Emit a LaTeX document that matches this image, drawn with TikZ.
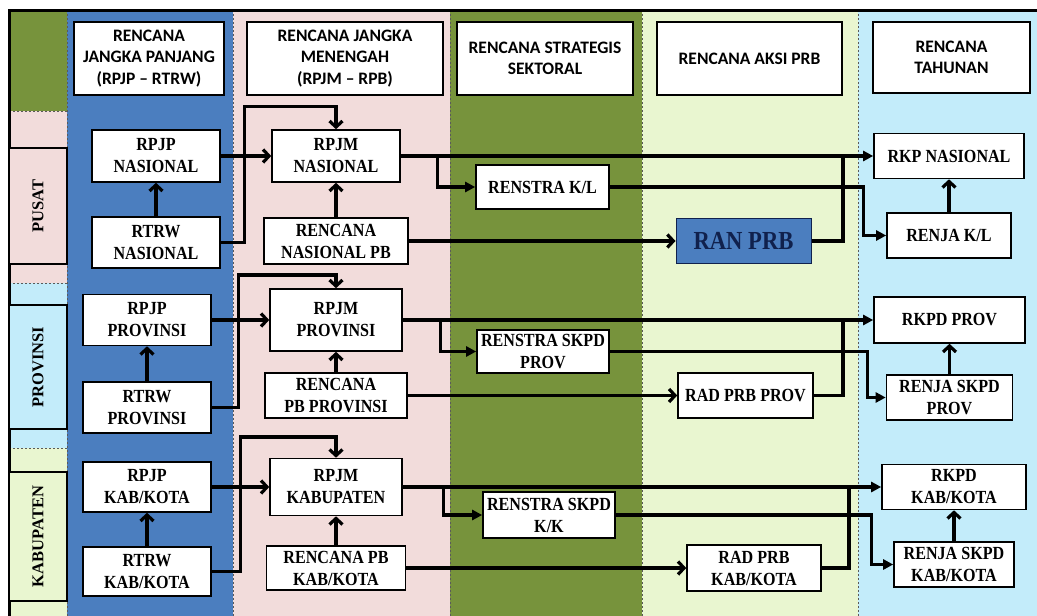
\documentclass[tikz,border=0pt]{standalone}
\usepackage{fontspec}
\setmainfont{Liberation Serif}
\newfontfamily\headfont{Carlito}
\newfontfamily\boxfont[FakeStretch=0.87]{Liberation Serif}
\usetikzlibrary{arrows.meta}

\definecolor{olive}{HTML}{77933C}
\definecolor{colblue}{HTML}{4B7EBF}
\definecolor{rosy}{HTML}{F2DCDB}
\definecolor{mint}{HTML}{E9F6D0}
\definecolor{sky}{HTML}{C3ECFA}
\definecolor{navy}{HTML}{10214D}
\definecolor{sepgray}{HTML}{5A5A5A}

\tikzset{
  plan/.style={draw=black, line width=1.6pt, fill=white, align=center, inner sep=1pt,
    font=\boxfont\bfseries\fontsize{18.5}{22}\selectfont},
  head/.style={draw=black, line width=2.6pt, fill=white, align=center, inner sep=1pt,
    font=\headfont\bfseries\fontsize{17.5}{21.5}\selectfont},
  level/.style={draw=black, line width=2.6pt, rotate=90, inner sep=0pt,
    font=\bfseries\fontsize{16.5}{20}\selectfont},
  ranbox/.style={draw=navy, line width=1pt, fill=colblue, text=navy, inner sep=1pt,
    font=\boxfont\bfseries\fontsize{26}{28}\selectfont},
  link/.style={line width=3.2pt},
  chev/.style={-{Straight Barb[length=6pt,width=13pt]}},
  tri/.style={-{Triangle[length=10pt,width=10pt]}},
  sep/.style={draw=sepgray, line width=0.7pt, dash pattern=on 2pt off 2pt},
}

\begin{document}
\begin{tikzpicture}[x=1pt, y=-1pt]
\useasboundingbox (0,0) rectangle (1037,616);
\clip (0,0) rectangle (1037,616);

% column backgrounds
\fill[olive]   (9,10)   rectangle (67,111);
\fill[rosy]    (9,111)  rectangle (67,283);
\fill[sky]     (9,283)  rectangle (67,448);
\fill[mint]    (9,448)  rectangle (67,620);
\fill[colblue] (67,10)  rectangle (233,620);
\fill[rosy]    (233,10) rectangle (450,620);
\fill[olive]   (450,10) rectangle (642,620);
\fill[mint]    (642,10) rectangle (858,620);
\fill[sky]     (858,10) rectangle (1040,620);

% dashed separators
\foreach \sx in {67,233,450,642,858} \draw[sep] (\sx,10) -- (\sx,620);
\foreach \sy in {111,283,448} \draw[sep] (9,\sy) -- (67,\sy);

% outer frame (left and top)
\draw[line width=3pt] (9,620) -- (9,10) -- (1040,10);

% column headings
\node[head, minimum width=150, minimum height=73] (h1) at (149,58.5) {RENCANA\\JANGKA PANJANG\\(RPJP – RTRW)};
\node[head, minimum width=196, minimum height=73] (h2) at (345,58.5) {RENCANA JANGKA\\MENENGAH\\(RPJM – RPB)};
\node[head, minimum width=176, minimum height=73] (h3) at (545,58.5) {RENCANA STRATEGIS\\SEKTORAL};
\node[head, minimum width=185, minimum height=73] (h4) at (749.5,58.5) {RENCANA AKSI PRB};
\node[head, minimum width=157, minimum height=71] (h5) at (951.5,57.5) {RENCANA\\TAHUNAN};

% level labels
\node[level, fill=rosy, minimum width=116, minimum height=58] (pusat) at (38,206) {PUSAT};
\node[level, fill=sky,  minimum width=124, minimum height=58] (prov)  at (38,367) {PROVINSI};
\node[level, fill=mint, minimum width=129, minimum height=58] (kab)   at (38,536.5) {KABUPATEN};

% ---------------- PUSAT ----------------
\node[plan, minimum width=128, minimum height=52] (rpjpN) at (156,156) {RPJP\\NASIONAL};
\node[plan, minimum width=128, minimum height=51] (rtrwN) at (156,242.5) {RTRW\\NASIONAL};
\node[plan, minimum width=128, minimum height=52] (rpjmN) at (336,156) {RPJM\\NASIONAL};
\node[plan, minimum width=144, minimum height=46] (rpbN) at (336,241) {RENCANA\\NASIONAL PB};
\node[plan, minimum width=133, minimum height=44] (renstraN) at (542.5,187) {RENSTRA K/L};
\node[ranbox, minimum width=135, minimum height=45] (ranprb) at (743.5,241) {RAN PRB};
\node[plan, minimum width=150, minimum height=45] (rkpN) at (949,156) {RKP NASIONAL};
\node[plan, minimum width=124, minimum height=45] (renjaN) at (949,235.5) {RENJA K/L};
\coordinate (jN) at (843,156);

\draw[link,chev] (rtrwN) -- (rpjpN);
\draw[link,chev] (rpjpN) -- (rpjmN);
\draw[link,chev] (rtrwN.east) -| ++(24,-136) -| (rpjmN.north);
\draw[link,chev] (rpbN) -- (rpjmN);
\draw[link,tri] (rpjmN) -- (rkpN);
\draw[link,tri] (rpjmN.east) ++(37,0) |- (renstraN.west);
\draw[link,tri] (renstraN.east) -- ++(254,0) |- (renjaN.west);
\draw[link,chev] (rpbN) -- (ranprb);
\draw[link] (ranprb.east) -| (jN);
\draw[link,chev] (renjaN) -- (rkpN);

% ---------------- PROVINSI ----------------
\node[plan, minimum width=128, minimum height=51] (rpjpP) at (147,320) {RPJP\\PROVINSI};
\node[plan, minimum width=128, minimum height=51] (rtrwP) at (147,407.5) {RTRW\\PROVINSI};
\node[plan, minimum width=132, minimum height=62] (rpjmP) at (336,320) {RPJM\\PROVINSI};
\node[plan, minimum width=142, minimum height=45] (rpbP) at (336,395.5) {RENCANA\\PB PROVINSI};
\node[plan, minimum width=132, minimum height=43] (renstraP) at (543,351.5) {RENSTRA SKPD\\PROV};
\node[plan, minimum width=135, minimum height=45] (radP) at (745.5,395.5) {RAD PRB PROV};
\node[plan, minimum width=151, minimum height=46] (rkpdP) at (949.5,320) {RKPD PROV};
\node[plan, minimum width=126, minimum height=45] (renjaP) at (949.5,397.5) {RENJA SKPD\\PROV};
\coordinate (jP) at (843,320);

\draw[link,chev] (rtrwP) -- (rpjpP);
\draw[link,chev] (rpjpP) -- (rpjmP);
\draw[link,chev] (rtrwP.east) -| ++(27,-132.5) -| (rpjmP.north);
\draw[link,chev] (rpbP) -- (rpjmP);
\draw[link,tri] (rpjmP) -- (rkpdP);
\draw[link,tri] (rpjmP.east) ++(38,0) |- (renstraP.west);
\draw[link,tri] (renstraP.east) -- ++(258,0) |- (renjaP.west);
\draw[link,chev] (rpbP) -- (radP);
\draw[link] (radP.east) -| (jP);
\draw[link,chev] (renjaP) -- (rkpdP);

% ---------------- KABUPATEN ----------------
\node[plan, minimum width=128, minimum height=50] (rpjpK) at (147,487) {RPJP\\KAB/KOTA};
\node[plan, minimum width=128, minimum height=49] (rtrwK) at (147,571.5) {RTRW\\KAB/KOTA};
\node[plan, minimum width=132, minimum height=57] (rpjmK) at (336,487) {RPJM\\KABUPATEN};
\node[plan, minimum width=139, minimum height=44] (rpbK) at (336,568) {RENCANA PB\\KAB/KOTA};
\node[plan, minimum width=132, minimum height=46] (renstraK) at (549,515) {RENSTRA SKPD\\K/K};
\node[plan, minimum width=134, minimum height=46] (radK) at (754,568) {RAD PRB\\KAB/KOTA};
\node[plan, minimum width=144, minimum height=45] (rkpdK) at (954,487) {RKPD\\KAB/KOTA};
\node[plan, minimum width=120, minimum height=45] (renjaK) at (954,564.5) {RENJA SKPD\\KAB/KOTA};
\coordinate (jK) at (849,487);

\draw[link,chev] (rtrwK) -- (rpjpK);
\draw[link,chev] (rpjpK) -- (rpjmK);
\draw[link,chev] (rtrwK.east) -| ++(29,-134.5) -| (rpjmK.north);
\draw[link,chev] (rpbK) -- (rpjmK);
\draw[link,tri] (rpjmK) -- (rkpdK);
\draw[link,tri] (rpjmK.east) ++(41,0) |- (renstraK.west);
\draw[link,tri] (renstraK.east) -- ++(256,0) |- (renjaK.west);
\draw[link,chev] (rpbK) -- (radK);
\draw[link] (radK.east) -| (jK);
\draw[link,chev] (renjaK) -- (rkpdK);
\end{tikzpicture}
\end{document}
